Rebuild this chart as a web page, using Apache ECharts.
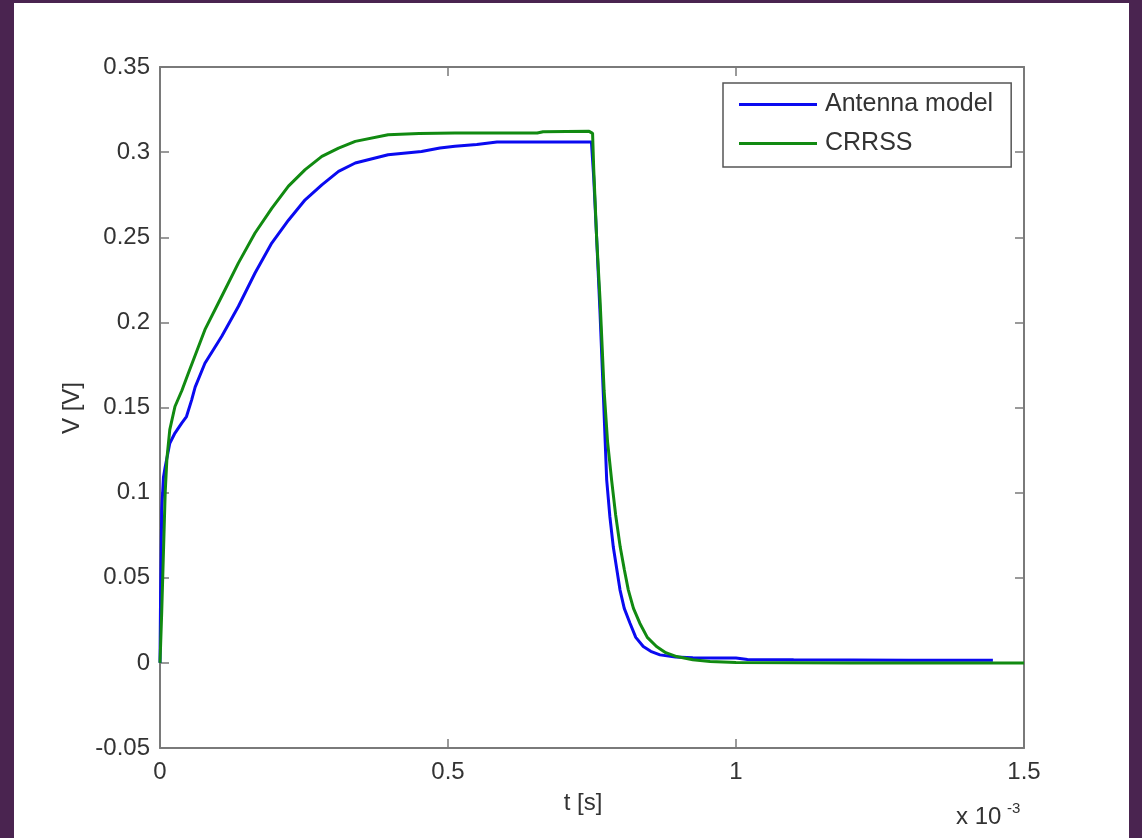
<!DOCTYPE html>
<html>
<head>
<meta charset="utf-8">
<script src="https://cdn.jsdelivr.net/npm/echarts@6/dist/echarts.min.js"></script>
<style>
  html, body { margin: 0; padding: 0; width: 1142px; height: 838px; background: #4a2450; overflow: hidden; }
  #chart { position: absolute; left: 14px; top: 3px; width: 1115px; height: 835px; background: #ffffff; }
</style>
</head>
<body>
<div id="chart"></div>
<script>
// time in units of 1e-3 s
const seriesNames = ['Antenna model', 'CRRSS'];
const xTicks = [0, 0.5, 1, 1.5];
const yTicks = [-0.05, 0, 0.05, 0.1, 0.15, 0.2, 0.25, 0.3, 0.35];

const tAntenna = [0, 0.001, 0.003, 0.006, 0.009, 0.017, 0.026, 0.038, 0.046, 0.055, 0.061, 0.078, 0.107, 0.136, 0.165, 0.194, 0.223, 0.252, 0.281, 0.31, 0.339, 0.396, 0.454, 0.486, 0.512, 0.55, 0.585, 0.65, 0.749, 0.753, 0.758, 0.764, 0.770, 0.7755, 0.781, 0.787, 0.7986, 0.806, 0.816, 0.826, 0.839, 0.852, 0.868, 0.895, 0.925, 0.96, 1.0, 1.02, 1.1, 1.2, 1.3, 1.446];
const vAntenna = [0, 0.04, 0.09, 0.109, 0.115, 0.129, 0.135, 0.141, 0.1447, 0.1545, 0.162, 0.176, 0.1917, 0.2093, 0.229, 0.2466, 0.26, 0.272, 0.2808, 0.2887, 0.2936, 0.2985, 0.3004, 0.3024, 0.3034, 0.3045, 0.3059, 0.306, 0.306, 0.285, 0.25, 0.205, 0.155, 0.1075, 0.086, 0.068, 0.0429, 0.032, 0.0233, 0.015, 0.0096, 0.0068, 0.0047, 0.0035, 0.003, 0.0028, 0.0028, 0.002, 0.0018, 0.0017, 0.0016, 0.0015];

const tCRRSS = [0, 0.003, 0.006, 0.009, 0.012, 0.017, 0.026, 0.038, 0.049, 0.078, 0.107, 0.136, 0.165, 0.194, 0.223, 0.252, 0.281, 0.31, 0.339, 0.396, 0.45, 0.512, 0.58, 0.655, 0.665, 0.745, 0.751, 0.753, 0.758, 0.764, 0.771, 0.777, 0.784, 0.791, 0.799, 0.806, 0.813, 0.822, 0.833, 0.846, 0.862, 0.878, 0.897, 0.925, 0.955, 1.0, 1.2, 1.5];
const vCRRSS = [0, 0.03, 0.065, 0.1, 0.12, 0.137, 0.1506, 0.160, 0.17, 0.1957, 0.2152, 0.2348, 0.2525, 0.267, 0.280, 0.2897, 0.2975, 0.3024, 0.3063, 0.3102, 0.311, 0.3112, 0.3112, 0.3112, 0.312, 0.3122, 0.311, 0.29, 0.25, 0.213, 0.16, 0.13, 0.1075, 0.087, 0.068, 0.055, 0.0429, 0.032, 0.0233, 0.015, 0.0096, 0.006, 0.0037, 0.0018, 0.0008, 0.0002, 0, 0];

const zip = (t, v) => t.map((x, i) => [x, v[i]]);

const chart = echarts.init(document.getElementById('chart'));
const axisGray = '#7a7a7a';
const font = 'Liberation Sans, Arial, sans-serif';
const labelStyle = { color: '#333333', fontSize: 24, fontFamily: font };

const xBase = {
  type: 'value', min: xTicks[0], max: xTicks[xTicks.length - 1], interval: 0.5,
  axisLine: { show: true, onZero: false, lineStyle: { color: axisGray, width: 2 } },
  axisTick: { show: true, inside: true, length: 9, lineStyle: { color: axisGray, width: 1.5 } },
  splitLine: { show: false }
};
const yBase = {
  type: 'value', min: yTicks[0], max: yTicks[yTicks.length - 1], interval: 0.05,
  axisLine: { show: true, onZero: false, lineStyle: { color: axisGray, width: 2 } },
  axisTick: { show: true, inside: true, length: 9, lineStyle: { color: axisGray, width: 1.5 } },
  splitLine: { show: false }
};

chart.setOption({
  animation: false,
  backgroundColor: '#ffffff',
  grid: { left: 146, top: 64, right: 105, bottom: 90 },
  legend: {
    data: seriesNames,
    orient: 'vertical',
    left: 709, top: 80,
    padding: [9, 18, 11, 16],
    itemGap: 14,
    itemWidth: 78, itemHeight: 3,
    icon: 'rect',
    backgroundColor: '#ffffff',
    borderColor: '#555555', borderWidth: 1.5, borderRadius: 0,
    textStyle: { color: '#333333', fontSize: 25, fontFamily: font, padding: [0, 0, 0, 3], lineHeight: 25 }
  },
  xAxis: [
    Object.assign({}, xBase, { position: 'bottom', axisLabel: Object.assign({ margin: 12, formatter: v => String(v) }, labelStyle) }),
    Object.assign({}, xBase, { position: 'top', axisLabel: { show: false } })
  ],
  yAxis: [
    Object.assign({}, yBase, { position: 'left', axisLabel: Object.assign({ margin: 10, formatter: v => String(Math.round(v * 100) / 100) }, labelStyle) }),
    Object.assign({}, yBase, { position: 'right', axisLabel: { show: false } })
  ],
  series: [
    { name: seriesNames[0], type: 'line', data: zip(tAntenna, vAntenna), showSymbol: false, symbol: 'none',
      lineStyle: { color: '#0a0af0', width: 3 }, itemStyle: { color: '#0a0af0' }, z: 3 },
    { name: seriesNames[1], type: 'line', data: zip(tCRRSS, vCRRSS), showSymbol: false, symbol: 'none',
      lineStyle: { color: '#118a11', width: 3 }, itemStyle: { color: '#118a11' }, z: 4 }
  ],
  graphic: [
    { type: 'text', x: 58, y: 405, rotation: Math.PI / 2, style: { text: 'V [V]', fill: '#333333', font: '24px ' + font, textAlign: 'center', textVerticalAlign: 'middle' } },
    { type: 'text', x: 569, y: 800, style: { text: 't [s]', fill: '#333333', font: '24px ' + font, textAlign: 'center', textVerticalAlign: 'middle' } },
    { type: 'text', x: 942, y: 826, style: { text: 'x 10', fill: '#333333', font: '24px ' + font, textAlign: 'left', textVerticalAlign: 'bottom' } },
    { type: 'text', x: 993, y: 813, style: { text: '-3', fill: '#333333', font: '15px ' + font, textAlign: 'left', textVerticalAlign: 'bottom' } }
  ]
});
</script>
</body>
</html>
